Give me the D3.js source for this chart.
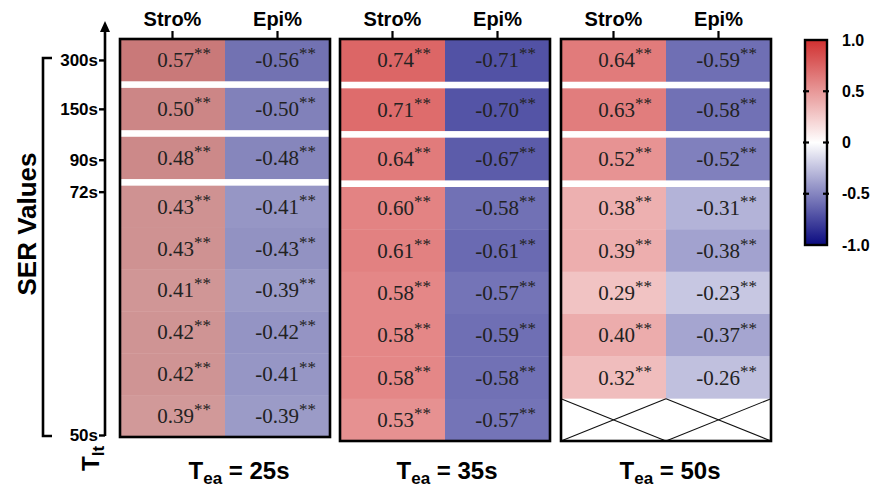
<!DOCTYPE html>
<html><head><meta charset="utf-8">
<script src="https://cdn.jsdelivr.net/npm/d3@7"></script>
<style>
html,body{margin:0;padding:0;background:#fff;}
svg{display:block;}
</style></head>
<body>
<svg id="chart" width="875" height="488"></svg>
<script>
// ---------------- data ----------------
const panels = ["25s", "35s", "50s"];
const columns = ["Stro%", "Epi%"];
const rowKeys = ["300s", "150s", "90s", "r4", "r5", "r6", "r7", "r8", "r9"];
const stro25 = [0.57, 0.50, 0.48, 0.43, 0.43, 0.41, 0.42, 0.42, 0.39];
const epi25  = [-0.56, -0.50, -0.48, -0.41, -0.43, -0.39, -0.42, -0.41, -0.39];
const stro35 = [0.74, 0.71, 0.64, 0.60, 0.61, 0.58, 0.58, 0.58, 0.53];
const epi35  = [-0.71, -0.70, -0.67, -0.58, -0.61, -0.57, -0.59, -0.58, -0.57];
const stro50 = [0.64, 0.63, 0.52, 0.38, 0.39, 0.29, 0.40, 0.32, null];
const epi50  = [-0.59, -0.58, -0.52, -0.31, -0.38, -0.23, -0.37, -0.26, null];
const significance = "**";
const yTickLabels = ["300s", "150s", "90s", "72s", "50s"];
const cbTickValues = [1, 0.5, 0, -0.5, -1];
const cbTickLabels = ["1.0", "0.5", "0", "-0.5", "-1.0"];

const panelData = [
  {label: panels[0], series: [stro25, epi25]},
  {label: panels[1], series: [stro35, epi35]},
  {label: panels[2], series: [stro50, epi50]}
];

// ---------------- layout ----------------
const svg = d3.select("#chart");
const font = "Arial, 'Liberation Sans', Helvetica, sans-serif";
const serif = "'Liberation Serif', 'Times New Roman', serif";
const panelX = [120, 340, 561];
const panelW = 210;
const panelTop = 39;
const panelBottom = [437, 441, 441];
const gap = 7;
const labelOffset = [14, 2, 4];
const panelShade = [[0.88, 0.97], [1, 1], [1, 1]]; // [positive, negative] brightness per panel

const color = d3.scaleLinear().domain([-1, 0, 1])
  .range(["#0b0b80", "#ffffff", "#d03030"]).interpolate(d3.interpolateRgb);

function shaded(v, pi) {
  const c = d3.rgb(color(v));
  const k = v >= 0 ? panelShade[pi][0] : panelShade[pi][1];
  return d3.rgb(c.r * k, c.g * k, c.b * k).toString();
}

function rowGeom(pi) {
  const H = panelBottom[pi] - panelTop;
  const r = (H - 3 * gap) / rowKeys.length;
  return {
    r,
    top: i => panelTop + i * r + gap * Math.min(i, 3)
  };
}

panelData.forEach((p, pi) => {
  const g = svg.append("g");
  const x = d3.scaleBand().domain(columns).range([panelX[pi], panelX[pi] + panelW]).padding(0);
  const rg = rowGeom(pi);

  // cells
  columns.forEach((c, ci) => {
    const vals = p.series[ci];
    vals.forEach((v, ri) => {
      const y0 = rg.top(ri);
      const x0 = x(c);
      const w = x.bandwidth();
      g.append("rect")
        .attr("x", x0).attr("y", y0)
        .attr("width", w).attr("height", rg.r + 0.4)
        .attr("fill", v == null ? "#ffffff" : shaded(v, pi));
      if (v == null) {
        g.append("line").attr("x1", x0).attr("y1", y0).attr("x2", x0 + w).attr("y2", y0 + rg.r)
          .attr("stroke", "#111").attr("stroke-width", 1.1);
        g.append("line").attr("x1", x0).attr("y1", y0 + rg.r).attr("x2", x0 + w).attr("y2", y0)
          .attr("stroke", "#111").attr("stroke-width", 1.1);
      } else {
        const t = g.append("text")
          .attr("x", x0 + w - 14)
          .attr("y", y0 + rg.r / 2 + 7)
          .attr("text-anchor", "end")
          .attr("font-family", serif)
          .attr("font-size", 21)
          .attr("fill", "#222");
        t.append("tspan").text(v.toFixed(2));
        t.append("tspan").attr("font-size", 17).attr("dy", -8).text(significance);
      }
    });
  });

  // frame
  g.append("rect")
    .attr("x", panelX[pi]).attr("y", panelTop)
    .attr("width", panelW).attr("height", panelBottom[pi] - panelTop)
    .attr("fill", "none").attr("stroke", "#000").attr("stroke-width", 2.6);

  // top axis (column headers)
  const ax = g.append("g").attr("transform", `translate(0,${panelTop - 1})`)
    .call(d3.axisTop(x).tickSize(7).tickPadding(5));
  ax.select(".domain").remove();
  ax.selectAll(".tick line").attr("stroke", "#000").attr("stroke-width", 2.2);
  ax.selectAll(".tick text").attr("font-family", font).attr("font-weight", "bold")
    .attr("font-size", 20).attr("fill", "#000");

  // bottom label
  const bl = g.append("text")
    .attr("x", panelX[pi] + panelW / 2 + labelOffset[pi])
    .attr("y", 479)
    .attr("text-anchor", "middle")
    .attr("font-family", font).attr("font-weight", "bold")
    .attr("font-size", 24).attr("fill", "#000");
  bl.append("tspan").text("T");
  bl.append("tspan").attr("font-size", 17).attr("dy", 5).text("ea");
  bl.append("tspan").attr("dy", -5).text(" = " + p.label);
});

// ---------------- left axis ----------------
const rg0 = rowGeom(0);
const yTickPos = [
  rg0.top(0) + rg0.r / 2,
  rg0.top(1) + rg0.r / 2,
  rg0.top(2) + rg0.r / 2 + 2,
  rg0.top(3) + 6,
  panelBottom[0] - 2
];
const yAxisScale = d3.scaleOrdinal().domain(yTickLabels).range(yTickPos);
const axisX = 105;
const ya = svg.append("g").attr("transform", `translate(${axisX},0)`)
  .call(d3.axisLeft(yAxisScale).tickSize(6).tickPadding(1));
ya.select(".domain").remove();
ya.selectAll(".tick line").attr("stroke", "#000").attr("stroke-width", 2.4);
ya.selectAll(".tick text").attr("font-family", font).attr("font-weight", "bold")
  .attr("font-size", 17).attr("fill", "#000");
// axis line with arrow
svg.append("line").attr("x1", axisX).attr("x2", axisX)
  .attr("y1", panelBottom[0] - 1).attr("y2", 30)
  .attr("stroke", "#000").attr("stroke-width", 2.6);
svg.append("path")
  .attr("d", `M${axisX - 5},${32} L${axisX},${21} L${axisX + 5},${32} Z`)
  .attr("fill", "#000");

// bracket
const bx = 43;
svg.append("path")
  .attr("d", `M${bx + 9},${yTickPos[0] - 2} H${bx} V${yTickPos[4] + 1} H${bx + 9}`)
  .attr("fill", "none").attr("stroke", "#000").attr("stroke-width", 2.6);

// SER Values title
svg.append("text")
  .attr("transform", `translate(36,224) rotate(-90)`)
  .attr("text-anchor", "middle")
  .attr("font-family", font).attr("font-weight", "bold")
  .attr("font-size", 26).attr("fill", "#000")
  .text("SER Values");

// T_lt label
const tl = svg.append("text")
  .attr("transform", `translate(99,471) rotate(-90)`)
  .attr("text-anchor", "start")
  .attr("font-family", font).attr("font-weight", "bold")
  .attr("font-size", 24).attr("fill", "#000");
tl.append("tspan").text("T");
tl.append("tspan").attr("font-size", 17).attr("dy", 5).text("lt");

// ---------------- colour bar ----------------
const cbX = 805, cbW = 22, cbTop = 40, cbBottom = 245;
const cbScale = d3.scaleLinear().domain([-1, 1]).range([cbBottom, cbTop]);
const defs = svg.append("defs");
const grad = defs.append("linearGradient").attr("id", "cbgrad")
  .attr("x1", 0).attr("y1", 1).attr("x2", 0).attr("y2", 0);
d3.range(-1, 1.0001, 0.1).forEach(v => {
  grad.append("stop").attr("offset", (v + 1) / 2).attr("stop-color", color(v));
});
svg.append("rect").attr("x", cbX).attr("y", cbTop).attr("width", cbW)
  .attr("height", cbBottom - cbTop).attr("fill", "url(#cbgrad)")
  .attr("stroke", "#000").attr("stroke-width", 2.4);
// inner tick marks on both edges
[0.5, 0, -0.5].forEach(v => {
  svg.append("line").attr("x1", cbX - 2).attr("x2", cbX + 4)
    .attr("y1", cbScale(v)).attr("y2", cbScale(v)).attr("stroke", "#000").attr("stroke-width", 2.2);
  svg.append("line").attr("x1", cbX + cbW - 4).attr("x2", cbX + cbW + 2)
    .attr("y1", cbScale(v)).attr("y2", cbScale(v)).attr("stroke", "#000").attr("stroke-width", 2.2);
});
const cba = svg.append("g").attr("transform", `translate(${cbX + cbW},0)`)
  .call(d3.axisRight(cbScale).tickValues(cbTickValues)
    .tickFormat((d, i) => cbTickLabels[i]).tickSize(0).tickPadding(15));
cba.select(".domain").remove();
cba.selectAll(".tick text").attr("font-family", font).attr("font-weight", "bold")
  .attr("font-size", 16).attr("fill", "#000");
</script>
</body></html>
